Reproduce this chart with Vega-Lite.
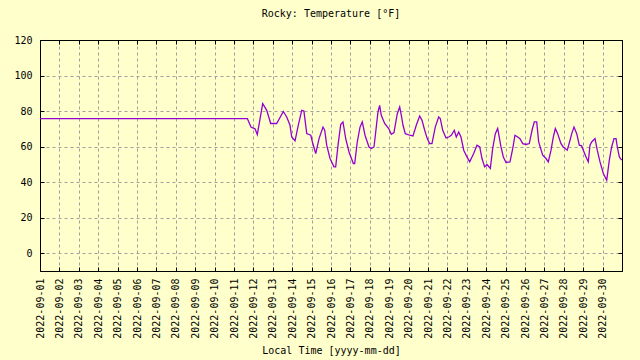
{
  "$schema": "https://vega.github.io/schema/vega-lite/v6.json",
  "width": 582,
  "height": 231,
  "autosize": "none",
  "padding": {"left": 40, "top": 40, "right": 18, "bottom": 89},
  "background": "#ffffcc",
  "title": {"text": "Rocky: Temperature [°F]", "font": "DejaVu Sans Mono", "fontSize": 10, "fontWeight": "normal", "color": "black", "offset": 16, "anchor": "middle"},
  "config": {
    "view": {"stroke": "black", "strokeWidth": 1},
    "axis": {
      "labelFont": "DejaVu Sans Mono", "labelFontSize": 10, "labelColor": "black",
      "titleFont": "DejaVu Sans Mono", "titleFontSize": 10, "titleFontWeight": "normal", "titleColor": "black",
      "domainColor": "black", "tickColor": "black", "tickSize": -4,
      "gridColor": "#a0a0a0", "gridDash": [3, 3], "gridWidth": 1, "gridOpacity": 1
    }
  },
  "data": {"values": [
    {"t": "2022-09-01T00:00", "v": 75.8},
    {"t": "2022-09-11T16:30", "v": 75.8},
    {"t": "2022-09-11T21:00", "v": 71},
    {"t": "2022-09-12T02:00", "v": 70},
    {"t": "2022-09-12T04:50", "v": 66.8},
    {"t": "2022-09-12T11:30", "v": 84.2},
    {"t": "2022-09-12T16:30", "v": 80.4},
    {"t": "2022-09-12T21:24", "v": 73},
    {"t": "2022-09-13T04:48", "v": 73},
    {"t": "2022-09-13T13:00", "v": 79.8},
    {"t": "2022-09-13T17:12", "v": 76.7},
    {"t": "2022-09-13T21:18", "v": 72},
    {"t": "2022-09-13T23:24", "v": 65.4},
    {"t": "2022-09-14T03:30", "v": 63.2},
    {"t": "2022-09-14T07:30", "v": 72},
    {"t": "2022-09-14T11:48", "v": 80.4},
    {"t": "2022-09-14T14:30", "v": 80},
    {"t": "2022-09-14T18:00", "v": 67.3},
    {"t": "2022-09-14T23:00", "v": 66.4},
    {"t": "2022-09-15T01:00", "v": 62.6},
    {"t": "2022-09-15T05:06", "v": 56.1},
    {"t": "2022-09-15T09:12", "v": 64.5},
    {"t": "2022-09-15T14:06", "v": 71},
    {"t": "2022-09-15T16:12", "v": 69.2},
    {"t": "2022-09-15T18:42", "v": 60.8},
    {"t": "2022-09-15T22:48", "v": 53.3},
    {"t": "2022-09-16T03:42", "v": 48.6},
    {"t": "2022-09-16T05:48", "v": 48.6},
    {"t": "2022-09-16T08:42", "v": 60.8},
    {"t": "2022-09-16T12:00", "v": 72.4},
    {"t": "2022-09-16T14:48", "v": 73.9},
    {"t": "2022-09-16T18:12", "v": 64.5},
    {"t": "2022-09-16T22:18", "v": 57},
    {"t": "2022-09-17T03:36", "v": 50.5},
    {"t": "2022-09-17T05:18", "v": 50.5},
    {"t": "2022-09-17T08:30", "v": 62.6},
    {"t": "2022-09-17T11:54", "v": 71},
    {"t": "2022-09-17T14:42", "v": 73.9},
    {"t": "2022-09-17T18:06", "v": 66.4},
    {"t": "2022-09-17T23:00", "v": 59.8},
    {"t": "2022-09-18T01:54", "v": 58.9},
    {"t": "2022-09-18T05:12", "v": 59.8},
    {"t": "2022-09-18T08:00", "v": 71},
    {"t": "2022-09-18T10:06", "v": 79.5},
    {"t": "2022-09-18T12:12", "v": 83.2},
    {"t": "2022-09-18T14:12", "v": 77.6},
    {"t": "2022-09-18T18:24", "v": 73},
    {"t": "2022-09-18T23:24", "v": 70.2},
    {"t": "2022-09-19T02:36", "v": 66.9},
    {"t": "2022-09-19T05:54", "v": 67.9},
    {"t": "2022-09-19T10:00", "v": 78.5},
    {"t": "2022-09-19T13:00", "v": 82.3},
    {"t": "2022-09-19T15:00", "v": 77.6},
    {"t": "2022-09-19T17:06", "v": 72},
    {"t": "2022-09-19T19:54", "v": 67.3},
    {"t": "2022-09-20T01:24", "v": 66.4},
    {"t": "2022-09-20T05:24", "v": 66},
    {"t": "2022-09-20T09:30", "v": 72},
    {"t": "2022-09-20T13:42", "v": 77.2},
    {"t": "2022-09-20T16:36", "v": 74.8},
    {"t": "2022-09-20T19:54", "v": 69.2},
    {"t": "2022-09-20T23:06", "v": 64.5},
    {"t": "2022-09-21T02:06", "v": 61.7},
    {"t": "2022-09-21T04:54", "v": 61.7},
    {"t": "2022-09-21T09:00", "v": 71},
    {"t": "2022-09-21T13:12", "v": 76.7},
    {"t": "2022-09-21T15:12", "v": 75.8},
    {"t": "2022-09-21T18:12", "v": 69.2},
    {"t": "2022-09-21T22:18", "v": 64.9},
    {"t": "2022-09-22T01:36", "v": 65.4},
    {"t": "2022-09-22T04:48", "v": 66.4},
    {"t": "2022-09-22T08:30", "v": 69.2},
    {"t": "2022-09-22T11:00", "v": 65.4},
    {"t": "2022-09-22T14:00", "v": 68.2},
    {"t": "2022-09-22T16:48", "v": 65.4},
    {"t": "2022-09-22T20:12", "v": 58},
    {"t": "2022-09-23T00:12", "v": 54.2},
    {"t": "2022-09-23T03:36", "v": 51.4},
    {"t": "2022-09-23T08:30", "v": 56.1},
    {"t": "2022-09-23T12:36", "v": 60.8},
    {"t": "2022-09-23T16:00", "v": 59.8},
    {"t": "2022-09-23T18:48", "v": 53.3},
    {"t": "2022-09-23T22:06", "v": 48.6},
    {"t": "2022-09-24T01:00", "v": 49.9},
    {"t": "2022-09-24T05:06", "v": 47.7},
    {"t": "2022-09-24T08:00", "v": 58.9},
    {"t": "2022-09-24T11:18", "v": 67.3},
    {"t": "2022-09-24T14:12", "v": 70.2},
    {"t": "2022-09-24T18:18", "v": 59.8},
    {"t": "2022-09-24T21:12", "v": 54.2},
    {"t": "2022-09-25T00:30", "v": 51.1},
    {"t": "2022-09-25T05:24", "v": 51.4},
    {"t": "2022-09-25T08:48", "v": 58.9},
    {"t": "2022-09-25T11:36", "v": 66.4},
    {"t": "2022-09-25T15:00", "v": 65.4},
    {"t": "2022-09-25T17:48", "v": 64.5},
    {"t": "2022-09-25T21:12", "v": 61.7},
    {"t": "2022-09-26T01:12", "v": 61.2},
    {"t": "2022-09-26T05:18", "v": 61.7},
    {"t": "2022-09-26T08:42", "v": 69.2},
    {"t": "2022-09-26T11:30", "v": 73.9},
    {"t": "2022-09-26T14:30", "v": 73.9},
    {"t": "2022-09-26T16:54", "v": 62.6},
    {"t": "2022-09-26T21:54", "v": 55.2},
    {"t": "2022-09-27T02:00", "v": 53.3},
    {"t": "2022-09-27T04:48", "v": 51.4},
    {"t": "2022-09-27T08:12", "v": 58},
    {"t": "2022-09-27T11:00", "v": 65.4},
    {"t": "2022-09-27T13:30", "v": 70.2},
    {"t": "2022-09-27T16:24", "v": 67.3},
    {"t": "2022-09-27T20:30", "v": 61.7},
    {"t": "2022-09-27T23:24", "v": 59.8},
    {"t": "2022-09-28T04:18", "v": 58},
    {"t": "2022-09-28T07:42", "v": 63.6},
    {"t": "2022-09-28T09:48", "v": 67.3},
    {"t": "2022-09-28T12:36", "v": 71},
    {"t": "2022-09-28T16:00", "v": 67.3},
    {"t": "2022-09-28T19:12", "v": 60.8},
    {"t": "2022-09-28T22:06", "v": 60.4},
    {"t": "2022-09-29T01:00", "v": 57},
    {"t": "2022-09-29T03:30", "v": 54.2},
    {"t": "2022-09-29T06:18", "v": 51.4},
    {"t": "2022-09-29T08:24", "v": 60.8},
    {"t": "2022-09-29T10:30", "v": 62.6},
    {"t": "2022-09-29T14:36", "v": 64.5},
    {"t": "2022-09-29T17:24", "v": 58},
    {"t": "2022-09-29T20:48", "v": 51.4},
    {"t": "2022-09-30T00:54", "v": 44.9},
    {"t": "2022-09-30T05:06", "v": 41.1},
    {"t": "2022-09-30T08:18", "v": 52.4},
    {"t": "2022-09-30T11:12", "v": 59.8},
    {"t": "2022-09-30T14:06", "v": 64.5},
    {"t": "2022-09-30T16:36", "v": 64.5},
    {"t": "2022-09-30T18:12", "v": 59.8},
    {"t": "2022-09-30T20:42", "v": 54.2},
    {"t": "2022-09-30T23:36", "v": 52.4}
  ]},
  "layer": [
    {
      "mark": {"type": "line", "color": "#9400d3", "strokeWidth": 1.3, "clip": true},
      "encoding": {
        "x": {
          "field": "t", "type": "temporal",
          "scale": {"domain": [{"year": 2022, "month": 9, "date": 1}, {"year": 2022, "month": 10, "date": 1}]},
          "axis": {
            "title": "Local Time [yyyy-mm-dd]", "titlePadding": 7,
            "format": "%Y-%m-%d", "labelAngle": -90, "labelPadding": 11,
            "values": [
              {"year": 2022, "month": 9, "date": 1}, {"year": 2022, "month": 9, "date": 2}, {"year": 2022, "month": 9, "date": 3},
              {"year": 2022, "month": 9, "date": 4}, {"year": 2022, "month": 9, "date": 5}, {"year": 2022, "month": 9, "date": 6},
              {"year": 2022, "month": 9, "date": 7}, {"year": 2022, "month": 9, "date": 8}, {"year": 2022, "month": 9, "date": 9},
              {"year": 2022, "month": 9, "date": 10}, {"year": 2022, "month": 9, "date": 11}, {"year": 2022, "month": 9, "date": 12},
              {"year": 2022, "month": 9, "date": 13}, {"year": 2022, "month": 9, "date": 14}, {"year": 2022, "month": 9, "date": 15},
              {"year": 2022, "month": 9, "date": 16}, {"year": 2022, "month": 9, "date": 17}, {"year": 2022, "month": 9, "date": 18},
              {"year": 2022, "month": 9, "date": 19}, {"year": 2022, "month": 9, "date": 20}, {"year": 2022, "month": 9, "date": 21},
              {"year": 2022, "month": 9, "date": 22}, {"year": 2022, "month": 9, "date": 23}, {"year": 2022, "month": 9, "date": 24},
              {"year": 2022, "month": 9, "date": 25}, {"year": 2022, "month": 9, "date": 26}, {"year": 2022, "month": 9, "date": 27},
              {"year": 2022, "month": 9, "date": 28}, {"year": 2022, "month": 9, "date": 29}, {"year": 2022, "month": 9, "date": 30}
            ],
            "labelOverlap": false, "labelFlush": false, "grid": true
          }
        },
        "y": {
          "field": "v", "type": "quantitative",
          "scale": {"domain": [-10, 120], "nice": false, "zero": false},
          "axis": {"title": null, "values": [0, 20, 40, 60, 80, 100, 120], "labelPadding": 12, "grid": true}
        }
      }
    },
    {
      "mark": {"type": "line", "opacity": 0},
      "encoding": {
        "x": {
          "field": "t", "type": "temporal",
          "axis": {
            "orient": "top", "title": null, "labels": false, "grid": false,
            "values": [
              {"year": 2022, "month": 9, "date": 1}, {"year": 2022, "month": 9, "date": 2}, {"year": 2022, "month": 9, "date": 3},
              {"year": 2022, "month": 9, "date": 4}, {"year": 2022, "month": 9, "date": 5}, {"year": 2022, "month": 9, "date": 6},
              {"year": 2022, "month": 9, "date": 7}, {"year": 2022, "month": 9, "date": 8}, {"year": 2022, "month": 9, "date": 9},
              {"year": 2022, "month": 9, "date": 10}, {"year": 2022, "month": 9, "date": 11}, {"year": 2022, "month": 9, "date": 12},
              {"year": 2022, "month": 9, "date": 13}, {"year": 2022, "month": 9, "date": 14}, {"year": 2022, "month": 9, "date": 15},
              {"year": 2022, "month": 9, "date": 16}, {"year": 2022, "month": 9, "date": 17}, {"year": 2022, "month": 9, "date": 18},
              {"year": 2022, "month": 9, "date": 19}, {"year": 2022, "month": 9, "date": 20}, {"year": 2022, "month": 9, "date": 21},
              {"year": 2022, "month": 9, "date": 22}, {"year": 2022, "month": 9, "date": 23}, {"year": 2022, "month": 9, "date": 24},
              {"year": 2022, "month": 9, "date": 25}, {"year": 2022, "month": 9, "date": 26}, {"year": 2022, "month": 9, "date": 27},
              {"year": 2022, "month": 9, "date": 28}, {"year": 2022, "month": 9, "date": 29}, {"year": 2022, "month": 9, "date": 30}
            ]
          }
        },
        "y": {
          "field": "v", "type": "quantitative",
          "axis": {"orient": "right", "title": null, "labels": false, "grid": false, "values": [0, 20, 40, 60, 80, 100, 120]}
        }
      }
    }
  ],
  "resolve": {"axis": {"x": "independent", "y": "independent"}}
}
